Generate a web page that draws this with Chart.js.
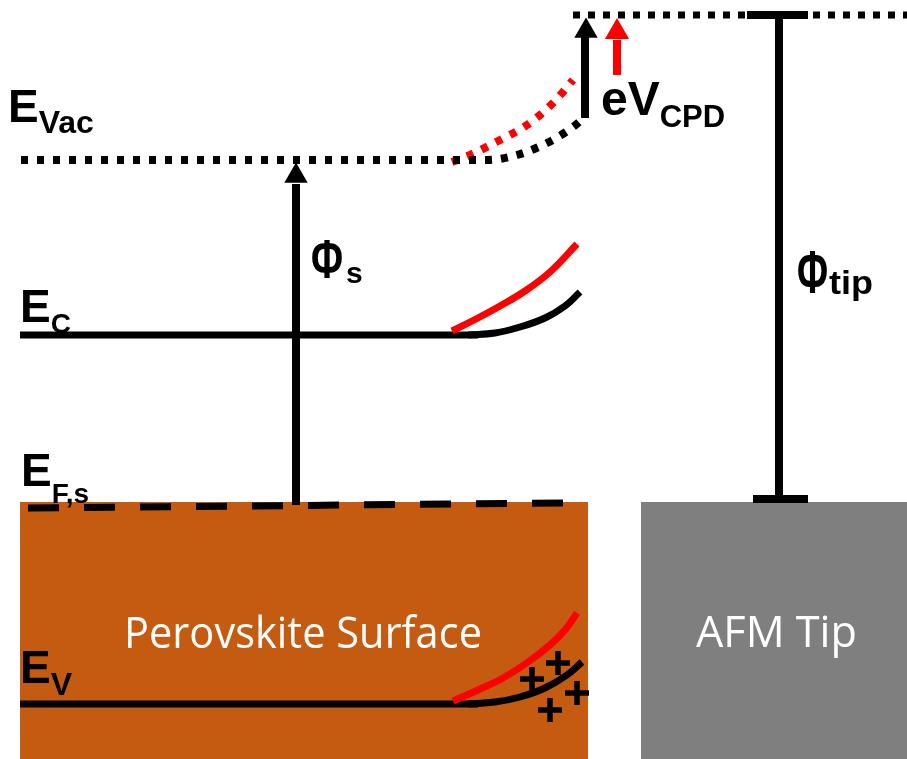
<!DOCTYPE html>
<html>
<head>
<meta charset="utf-8">
<script src="https://cdn.jsdelivr.net/npm/chart.js@4.4.1/dist/chart.umd.min.js"></script>
<style>
  html, body { margin: 0; padding: 0; background: #fff; }
  #wrap { width: 907px; height: 759px; }
</style>
</head>
<body>
<div id="wrap"><canvas id="band" width="907" height="759"></canvas></div>
<script>
/* Band diagram: perovskite surface vs AFM tip (KPFM contact potential) */
// coordinates are [x, y] in the 907 x 759 frame, y counted downward

const surfaceTop = [[20, 502], [588, 502]];
const tipTop = [[641, 502], [907, 502]];

const vacSurface = [[21, 160], [487, 160], [517, 155], [547, 143], [573, 127], [585, 117]];
const vacSurfaceRed = [[452, 162], [470, 155], [500, 140], [527, 125], [553, 103], [573, 80]];
const vacTip = [[573, 15], [907, 15]];

const condFlat = [[20, 335], [478, 335]];
const condBend = [[468, 335], [495, 333], [520, 327], [545, 318], [565, 306], [580, 292]];
const condBendRed = [[452, 331], [476, 319], [500, 306], [525, 291], [550, 272], [577, 244]];
const valFlat = [[20, 704], [478, 704]];
const valBend = [[468, 704], [495, 702], [520, 697], [545, 688], [567, 675], [582, 662]];
const valBendRed = [[453, 701], [478, 690], [503, 678], [528, 662], [550, 645], [565, 630], [577, 613]];
const fermiLevel = [[28, 508], [565, 503]];

const phiSurfShaft = [[296, 505], [296, 184]];
const phiTipShaft = [[779, 15], [779, 499]];
const phiTipCapTop = [[747, 15], [808, 15]];
const phiTipCapBottom = [[753, 499], [808, 499]];
const cpdShaft = [[585, 118], [585, 36]];
const cpdShaftRed = [[617, 75], [617, 40]];

const headsBlack = [[296, 176], [586, 31]];
const headsRed = [[617, 32]];
const holes = [[532, 679], [558, 663], [577, 693], [550, 710]];

const labels = [
  { text: "E", sub: "Vac", x: 8, y: 122, size: 46, subSize: 32, drop: 11 },
  { text: "E", sub: "C", x: 20, y: 322, size: 46, subSize: 28, drop: 11 },
  { text: "E", sub: "F,s", x: 21, y: 486, size: 46, subSize: 28, drop: 17 },
  { text: "E", sub: "V", x: 20, y: 683, size: 46, subSize: 32, drop: 12 },
  { text: "eV", sub: "CPD", x: 601, y: 115, size: 48, subSize: 31, drop: 12 },
  { text: "\u03A6", sub: "s", x: 311, y: 278, size: 56, fit: 32, subSize: 30, drop: 5, gap: 3 },
  { text: "\u03A6", sub: "tip", x: 797, y: 293, size: 62, fit: 31, subSize: 34, drop: 1, gap: 1, subFit: 44 },
  { text: "Perovskite Surface", x: 124, y: 648, size: 43, family: '"Open Sans"', weight: "normal", color: "#fff", fit: 358 },
  { text: "AFM Tip", x: 696, y: 647, size: 43, family: '"Open Sans"', weight: "normal", color: "#fff", fit: 161 }
];

const pts = (arr) => arr.map(([x, y]) => ({ x, y }));

function line(data, color, width, extra) {
  return Object.assign({
    data: pts(data), showLine: true, borderColor: color, borderWidth: width,
    pointRadius: 0, borderCapStyle: "butt", fill: false
  }, extra || {});
}

function box(data, color) {
  return { data: pts(data), showLine: true, borderWidth: 0, pointRadius: 0,
    backgroundColor: color, borderColor: color, fill: { value: 759 } };
}

function heads(data, color, r) {
  return { data: pts(data), showLine: false, pointStyle: "triangle", pointRadius: r,
    pointBackgroundColor: color, pointBorderWidth: 0 };
}

const mono = { cubicInterpolationMode: "monotone" };
const smooth = { tension: 0.4 };
const dotted = { borderDash: [7, 9] };

// painter's order: first entry drawn at the bottom
const layers = [
  box(surfaceTop, "#c55a11"),
  box(tipTop, "#7f7f7f"),
  line(fermiLevel, "#000", 7, { borderDash: [31, 25] }),
  line(vacSurfaceRed, "#ff0000", 8, Object.assign({}, mono, dotted)),
  line(vacSurface, "#000", 8, Object.assign({}, mono, dotted)),
  line(vacTip, "#000", 7, { borderDash: [7, 8] }),
  line(condFlat, "#000", 7),
  line(condBend, "#000", 7, smooth),
  line(condBendRed, "#ff0000", 7, smooth),
  line(valFlat, "#000", 7),
  line(valBend, "#000", 7, smooth),
  line(valBendRed, "#ff0000", 7, smooth),
  line(phiSurfShaft, "#000", 8),
  line(phiTipShaft, "#000", 8),
  line(phiTipCapTop, "#000", 8),
  line(phiTipCapBottom, "#000", 8),
  line(cpdShaft, "#000", 8),
  line(cpdShaftRed, "#ff0000", 8),
  heads(headsBlack, "#000", 13.5),
  heads(headsRed, "#ff0000", 14),
  { data: pts(holes), showLine: false, pointStyle: "cross", pointRadius: 12,
    pointBorderColor: "#000", pointBorderWidth: 5.5 }
];
layers.forEach((ds, i) => { ds.order = layers.length - i; });

const textPlugin = {
  id: "bandText",
  afterDatasetsDraw(chart) {
    const ctx = chart.ctx;
    const sx = chart.scales.x, sy = chart.scales.y;
    ctx.save();
    ctx.textBaseline = "alphabetic";
    ctx.textAlign = "left";
    labels.forEach((l) => {
      const fam = l.family || '"Liberation Sans", Arial, sans-serif';
      const wt = l.weight || "bold";
      const px = sx.getPixelForValue(l.x), py = sy.getPixelForValue(l.y);
      ctx.fillStyle = l.color || "#000";
      ctx.font = `${wt} ${l.size}px ${fam}`;
      const w = ctx.measureText(l.text).width;
      const k = l.fit ? l.fit / w : 1;
      ctx.save();
      ctx.translate(px, py);
      ctx.scale(k, 1);
      ctx.fillText(l.text, 0, 0);
      ctx.restore();
      if (l.sub) {
        ctx.font = `${wt} ${l.subSize}px ${fam}`;
        const sw = ctx.measureText(l.sub).width;
        const sk = l.subFit ? l.subFit / sw : 1;
        ctx.save();
        ctx.translate(px + w * k + (l.gap || 0), py + l.drop);
        ctx.scale(sk, 1);
        ctx.fillText(l.sub, 0, 0);
        ctx.restore();
      }
    });
    ctx.restore();
  }
};

new Chart(document.getElementById("band"), {
  type: "scatter",
  data: { datasets: layers },
  options: {
    responsive: false,
    devicePixelRatio: 1,
    animation: false,
    events: [],
    layout: { padding: 0, autoPadding: false },
    plugins: { legend: { display: false }, tooltip: { enabled: false } },
    scales: {
      x: { type: "linear", min: 0, max: 907, display: false },
      y: { type: "linear", min: 0, max: 759, reverse: true, display: false }
    }
  },
  plugins: [textPlugin]
});
</script>
</body>
</html>
